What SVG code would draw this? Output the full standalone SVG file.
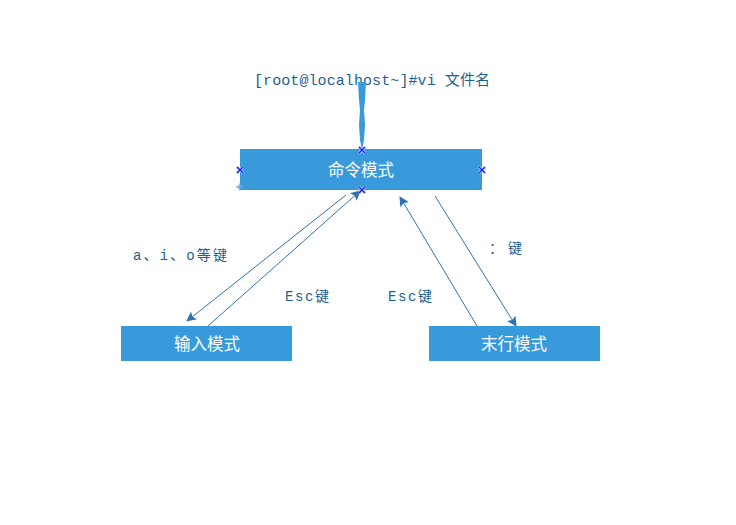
<svg xmlns="http://www.w3.org/2000/svg" width="736" height="525" viewBox="0 0 736 525">
<style>
.box{fill:#3899db}
.bt{fill:#ffffff;font-family:"Noto Sans CJK SC",sans-serif;font-size:16.5px;text-anchor:middle;dominant-baseline:central}
.lbl{fill:#1f5f8f;font-family:"Liberation Mono","Noto Sans CJK SC",monospace;font-size:14px;dominant-baseline:central}
.ln{stroke:#2f73ae;stroke-width:1;fill:none}
.mk{stroke:#1a1aff;stroke-width:1.2;fill:none}
.mkh{stroke:#a9cdee;stroke-width:3;fill:none}
</style>
<defs>
<marker id="ah" viewBox="0 0 10 10" refX="9" refY="5" markerWidth="10" markerHeight="10" markerUnits="userSpaceOnUse" orient="auto">
<path d="M0,0 L10,5 L0,10 L2,5 z" fill="#2f73ae"/>
</marker>
<g id="xm"><path class="mkh" d="M-3,-3 L3,3 M-3,3 L3,-3"/><path class="mk" d="M-3,-3 L3,3 M-3,3 L3,-3"/></g>
</defs>
<text class="lbl" x="254" y="81" style="font-size:15px" textLength="236">[root@localhost~]#vi 文件名</text>
<polygon points="358,82 366,82 365,100 364,110 365,125 364,140 362,150 360,140 359,125 360,110 359,100" fill="#3899db"/>
<g id="connectors">
<line class="ln" x1="346" y1="195" x2="187" y2="321" marker-end="url(#ah)"/>
<line class="ln" x1="208" y1="326" x2="360" y2="191" marker-end="url(#ah)"/>
<line class="ln" x1="477" y1="326" x2="400" y2="197" marker-end="url(#ah)"/>
<line class="ln" x1="435" y1="196" x2="516" y2="326" marker-end="url(#ah)"/>
</g>
<g id="cmd">
<rect class="box" x="240" y="149" width="242" height="41"/>
<text class="bt" x="361" y="169">命令模式</text>
</g>
<g id="input">
<rect class="box" x="121" y="326" width="171" height="35"/>
<text class="bt" x="207" y="343">输入模式</text>
</g>
<g id="lastline">
<rect class="box" x="429" y="326" width="171" height="35"/>
<text class="bt" x="514" y="343">末行模式</text>
</g>
<g id="markers">
<use href="#xm" x="362" y="150"/>
<use href="#xm" x="240" y="170"/>
<use href="#xm" x="482" y="170"/>
<use href="#xm" x="362" y="190"/>
<path d="M236,187 L244,187 M240,183 L240,191" stroke="#6aa4dd" stroke-width="1"/>
<circle cx="240" cy="187" r="2" fill="none" stroke="#6aa4dd" stroke-width="1"/>
</g>
<g id="labels">
<text class="lbl" x="133" y="256" textLength="94">a、i、o等键</text>
<text class="lbl" x="285" y="297" textLength="44">Esc键</text>
<text class="lbl" x="388" y="297" textLength="44">Esc键</text>
<text class="lbl" x="489" y="249" textLength="33">：键</text>
</g>
</svg>
